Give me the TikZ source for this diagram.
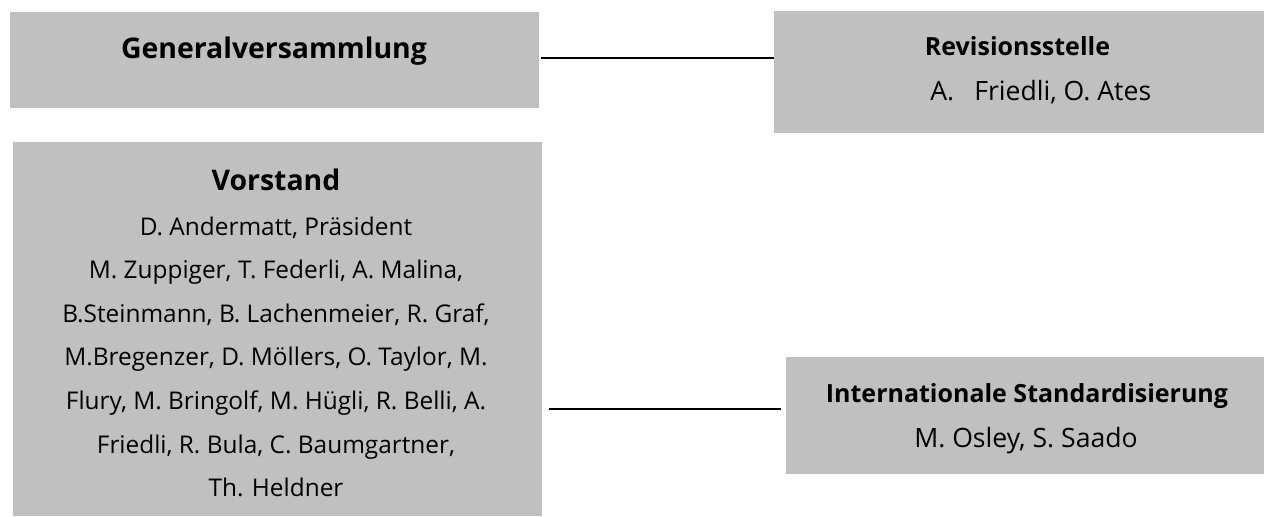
\documentclass[tikz,border=0pt]{standalone}
\usepackage{fontspec}
\setmainfont{Open Sans}
\usetikzlibrary{positioning}
\definecolor{boxgray}{RGB}{192,192,192}

\tikzset{
  box/.style={fill=boxgray, inner sep=0pt},
  title/.style={font=\fontsize{14.2}{17}\selectfont\bfseries, anchor=base, inner sep=0pt},
  subtitle/.style={font=\fontsize{12.5}{15}\selectfont\bfseries, anchor=base, inner sep=0pt},
  names/.style={font=\fontsize{12.2}{21.8}\selectfont, anchor=base, inner sep=0pt},
  contact/.style={font=\fontsize{13.3}{16}\selectfont, anchor=base, inner sep=0pt},
  link/.style={line width=1.1pt}
}

\begin{document}
\begin{tikzpicture}[x=0.5pt,y=-0.5pt]
  \fill[white] (0,0) rectangle (1264,516);
  \useasboundingbox (0,0) rectangle (1264,516);

  % boxes
  \node[box, minimum width=264.5pt, minimum height=48pt] (GV) at (274.5,60) {};
  \node[box, minimum width=245pt, minimum height=61pt] (REV) at (1019,72) {};
  \node[box, minimum width=264.5pt, minimum height=187pt] (VS) at (277.5,329) {};
  \node[box, minimum width=239pt, minimum height=58.5pt] (ISD) at (1025,415.5) {};

  % texts
  \node[title] (GVtitle) at (274,58) {Generalversammlung};
  \node[subtitle] (REVtitle) at (1017.5,55) {Revisionsstelle};
  \node[contact, anchor=base west] (REVnames) at (930,100) {A.\hspace{10pt}Friedli, O. Ates};
  \node[names] (VSnames) at (276,190) {\begin{tabular}[t]{@{}c@{}}
      {\fontsize{14.2}{17}\selectfont\bfseries Vorstand}\\[0.7pt]
      D. Andermatt, Präsident\\
      M. Zuppiger, T. Federli, A. Malina,\\
      B.Steinmann, B. Lachenmeier, R. Graf,\\
      M.Bregenzer, D. Möllers, O. Taylor, M.\\
      Flury, M. Bringolf, M. Hügli, R. Belli, A.\\
      Friedli, R. Bula, C. Baumgartner,\\
      Th. Heldner
    \end{tabular}};
  \node[subtitle] (ISDtitle) at (1027,402) {Internationale Standardisierung};
  \node[contact] (ISDnames) at (1026,447) {M. Osley, S. Saado};

  % connectors
  \path (GV.east) ++(2,-2) coordinate (gvlink);
  \path (ISD.west) ++(-5,-6.5) coordinate (isdlink);
  \path (VS.east |- isdlink) ++(7,0) coordinate (vslink);
  \draw[link] (gvlink) -- (gvlink -| REV.west);
  \draw[link] (vslink) -- (isdlink);
\end{tikzpicture}
\end{document}
